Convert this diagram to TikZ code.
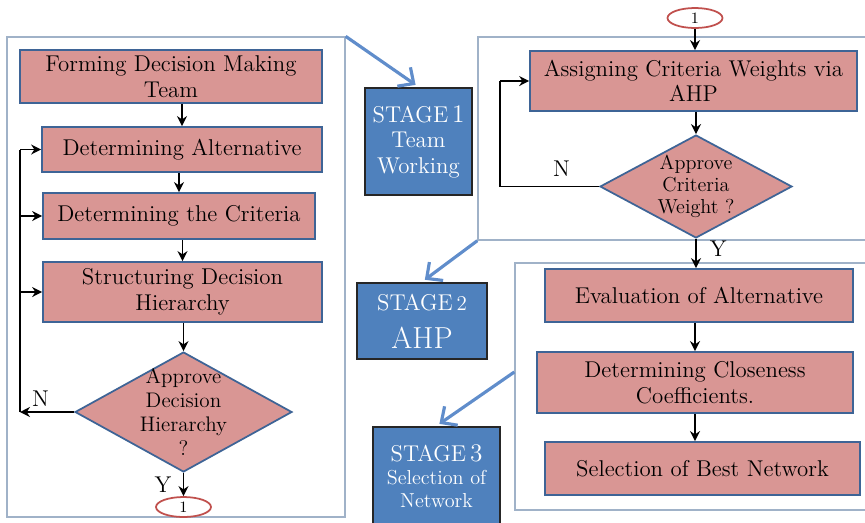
\documentclass[tikz,border=0pt]{standalone}
\usepackage{tikz}
\usetikzlibrary{positioning,arrows.meta,calc,shapes.geometric}
\usepackage{xcolor}
\definecolor{boxpink}{RGB}{217,150,148}
\definecolor{boxedge}{RGB}{62,100,150}
\definecolor{panelgray}{RGB}{160,178,200}
\definecolor{stageblue}{RGB}{79,129,189}
\definecolor{arrowblue}{RGB}{96,141,203}
\definecolor{ovalred}{RGB}{192,80,77}

\tikzset{
  procbox/.style={draw=boxedge,line width=1pt,fill=boxpink,align=center,inner sep=1pt,
    font=\fontsize{13}{14.5}\selectfont},
  decision/.style={diamond,draw=boxedge,line width=1pt,fill=boxpink,inner sep=0pt},
  qtext/.style={align=center,font=\fontsize{12}{13.5}\selectfont},
  stagebox/.style={draw=black!85,line width=1.3pt,fill=stageblue,text=white,align=center,
    inner sep=1pt,font=\fontsize{13}{14.5}\selectfont},
  panel/.style={draw=panelgray,line width=0.8pt,inner sep=0pt},
  conn/.style={ellipse,draw=ovalred,line width=1pt,inner sep=0pt,minimum width=1.1cm,
    minimum height=0.4cm,font=\small},
  flow/.style={-{Stealth[length=2mm,width=2mm]},line width=1.1pt},
  stagearrow/.style={-{Straight Barb[length=2.4mm,width=4.6mm]},line width=1.8pt,draw=arrowblue,
    shorten >=2pt},
  yn/.style={font=\fontsize{13}{14}\selectfont},
}

\begin{document}
\begin{tikzpicture}[x=0.02cm,y=-0.02cm]
\useasboundingbox (0,0) rectangle (865,522);

% panels
\node[panel,minimum width=6.76cm,minimum height=9.6cm] (p1) at (176,277) {};
\node[panel,minimum width=7.84cm,minimum height=4.06cm] (p2) at (674,138.5) {};
\node[panel,minimum width=7.1cm,minimum height=4.94cm] (p3) at (692.5,386.5) {};

% stage 1
\node[procbox,minimum width=6.04cm,minimum height=1.06cm] (form) at (171,76.5) {Forming Decision Making\\Team};
\node[procbox,minimum width=5.6cm,minimum height=0.9cm] (alt) at (182,149.5) {Determining Alternative};
\node[procbox,minimum width=5.44cm,minimum height=0.92cm] (crit) at (179,216) {Determining the Criteria};
\node[procbox,minimum width=5.58cm,minimum height=1.2cm] (hier) at (182.5,292) {Structuring Decision\\Hierarchy};
\node[decision,minimum width=4.34cm,minimum height=2.4cm,
  label={[qtext]center:Approve\\Decision\\Hierarchy\\?}] (dh) at (183.5,412) {};
\node[conn] (c1) at (183.5,507) {1};
\coordinate (lx) at (20,0);

\draw[flow] (form.south -| alt) -- (alt.north);
\draw[flow] (alt.south -| crit) -- (crit.north);
\draw[flow] (crit.south -| hier) -- (hier.north);
\draw[flow] (hier.south -| dh) -- (dh.north);
\draw[flow] (dh.west) -- (dh.west -| lx) node[yn,pos=0.62,above=-1pt] {N};
\draw[line width=1.1pt] (dh.west -| lx) -- (alt.west -| lx);
\draw[flow] (alt.west -| lx) -- (alt.west);
\draw[flow] (crit.west -| lx) -- (crit.west);
\draw[flow] (hier.west -| lx) -- (hier.west);
\draw[flow] (dh.south) -- (c1.north) node[yn,midway,left=3pt] {Y};

% stage 2
\node[conn] (c2) at (695,18) {1};
\node[procbox,minimum width=6.54cm,minimum height=1.2cm] (aw) at (693.5,81) {Assigning Criteria Weights via\\AHP};
\node[decision,minimum width=3.84cm,minimum height=2.06cm,
  label={[qtext,font=\fontsize{11.5}{12.5}\selectfont]center:Approve\\Criteria\\Weight ?}] (dw) at (696,186.5) {};
\coordinate (rx) at (500,0);

\draw[flow] (c2.south) -- (c2.south |- aw.north);
\draw[flow] (aw.south -| dw) -- (dw.north);
\draw[line width=1.1pt] (dw.west) -- (dw.west -| rx) node[yn,pos=0.38,above=2pt] {N};
\draw[line width=1.1pt] (dw.west -| rx) -- (aw.west -| rx);
\draw[flow] (aw.west -| rx) -- (aw.west);

% stage 3
\node[procbox,minimum width=6.16cm,minimum height=1.06cm] (ev) at (699,295.5) {Evaluation of Alternative};
\node[procbox,minimum width=6.32cm,minimum height=1.22cm] (cc) at (695,382.5) {Determining Closeness\\Coefficients.};
\node[procbox,minimum width=6.3cm,minimum height=1.06cm] (sb) at (702.5,468.5) {Selection of Best Network};

\draw[flow] (dw.south) -- (dw.south |- ev.north) node[yn,pos=0.35,right=4pt] {Y};
\draw[flow] (ev.south -| cc) -- (cc.north);
\draw[flow] (cc.south) -- (cc.south |- sb.north);

% stage labels
\node[stagebox,minimum width=2.14cm,minimum height=2.14cm] (s1) at (418.5,141.5)
  {STAGE\,{\Large 1}\\Team\\Working};
\node[stagebox,minimum width=2.6cm,minimum height=1.52cm] (s2) at (422,321)
  {STAGE\,{\large 2}\\[7pt]{\LARGE AHP}};
\node[stagebox,minimum width=2.54cm,minimum height=1.96cm,font=\fontsize{11.5}{13}\selectfont] (s3) at (436.5,476)
  {{\fontsize{13}{14.5}\selectfont STAGE\,{\Large 3}}\\Selection of\\Network};

\draw[stagearrow] (p1.north east) -- (s1.north);
\draw[stagearrow] (p2.south west) -- (s2.north);
\draw[stagearrow] (p3.west |- 0,372) -- (s3.north);
\end{tikzpicture}
\end{document}
